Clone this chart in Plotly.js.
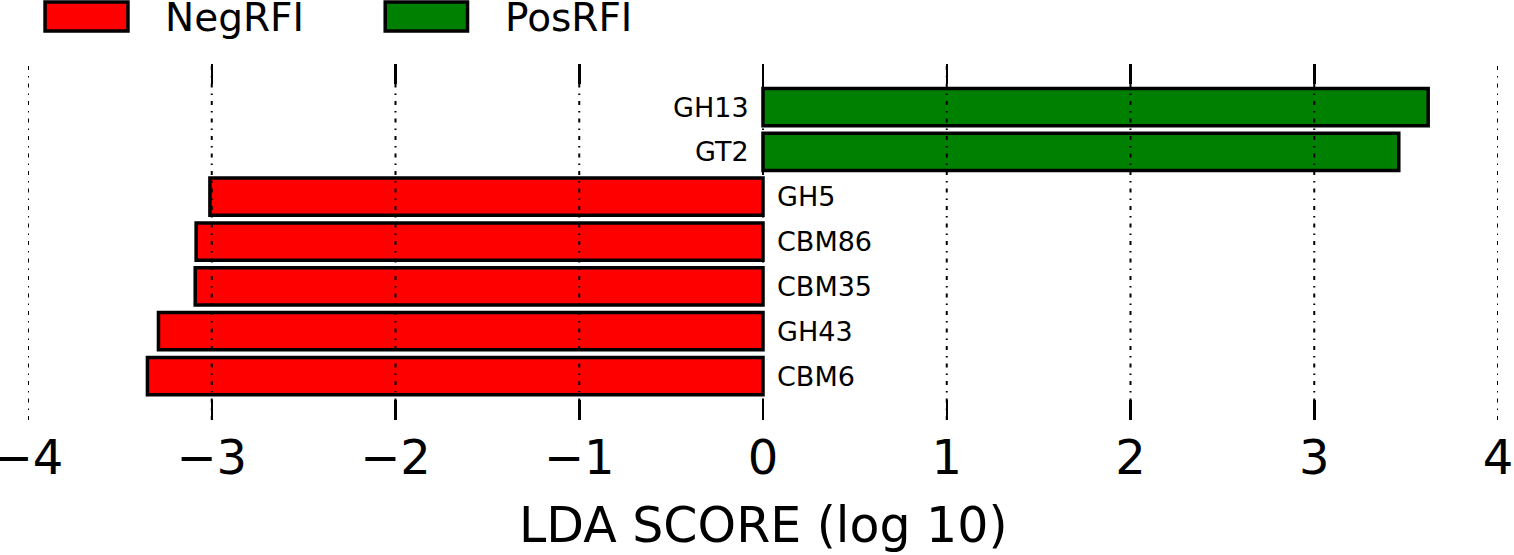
<!DOCTYPE html>
<html>
<head>
<meta charset="utf-8">
<script src="https://cdn.plot.ly/plotly-3.0.1.min.js"></script>
<style>
  html, body { margin: 0; padding: 0; background: #fff; }
  #chart { width: 1514px; height: 555px; }
</style>
</head>
<body>
<div id="chart"></div>
<script>
// features, bottom to top
const features = ['CBM6', 'GH43', 'CBM35', 'CBM86', 'GH5', 'GT2', 'GH13'];
const groups   = ['NegRFI', 'NegRFI', 'NegRFI', 'NegRFI', 'NegRFI', 'PosRFI', 'PosRFI'];
const ldaScore = [-3.35, -3.29, -3.09, -3.085, -3.01, 3.46, 3.62];

const groupNames  = ['NegRFI', 'PosRFI'];
const groupColors = ['#ff0000', '#008000'];
const xTicks = [-4, -3, -2, -1, 0, 1, 2, 3, 4];

const FONT = 'DejaVu Sans, sans-serif';
const pos = features.map((f, i) => i);

// one bar trace per class
const traces = groupNames.map((g, gi) => {
    const idx = pos.filter(i => groups[i] === g);
    return {
        type: 'bar',
        orientation: 'h',
        name: g,
        x: idx.map(i => ldaScore[i]),
        y: idx,
        width: 0.83,
        marker: { color: groupColors[gi], line: { color: '#000', width: 3.5 } },
        hoverinfo: 'x+text',
        text: idx.map(i => features[i]),
        textposition: 'none'
    };
});

// feature names sit on the opposite side of the zero line
const labels = pos.map(i => ({
    x: 0, y: i, xref: 'x', yref: 'y',
    text: features[i],
    showarrow: false,
    xanchor: ldaScore[i] > 0 ? 'right' : 'left',
    xshift: ldaScore[i] > 0 ? -12 : 12,
    font: { family: FONT, size: 27, color: '#000' }
}));

// dash-dot grid drawn over the bars
const grid = xTicks.map(v => ({
    type: 'line', layer: 'above',
    xref: 'x', yref: 'paper',
    x0: v, x1: v, y0: 0, y1: 1,
    line: { color: '#000', width: 2, dash: '4px,6px,1.5px,6px' }
}));

// hand-made legend with wide patches
const legendShapes = [
    { x0: 0.0116, x1: 0.068 },
    { x0: 0.243, x1: 0.299 }
].map((p, gi) => ({
    type: 'rect', layer: 'above', xref: 'paper', yref: 'paper',
    x0: p.x0, x1: p.x1, y0: 1.093, y1: 1.174,
    fillcolor: groupColors[gi],
    line: { color: '#000', width: 3.5 }
}));
const legendText = [0.0918, 0.323].map((x, gi) => ({
    xref: 'paper', yref: 'paper', x: x, y: 1.131,
    xanchor: 'left', yanchor: 'middle',
    text: groupNames[gi], showarrow: false,
    font: { family: FONT, size: 39, color: '#000' }
}));

// x axis title, placed by hand so it sits lower than plotly's default
const xTitle = {
    xref: 'paper', yref: 'paper', x: 0.5, y: -0.295,
    xanchor: 'center', yanchor: 'middle',
    text: 'LDA SCORE (log 10)', showarrow: false,
    font: { family: FONT, size: 49, color: '#000' }
};

const layout = {
    width: 1514, height: 555,
    margin: { l: 28, r: 16, t: 64, b: 135 },
    paper_bgcolor: '#fff',
    plot_bgcolor: '#fff',
    showlegend: false,
    barmode: 'overlay',
    font: { family: FONT, color: '#000' },
    xaxis: {
        range: [-4, 4],
        tickvals: xTicks,
        ticks: 'inside',
        ticklen: 20,
        tickwidth: 2.5,
        tickcolor: '#000',
        mirror: 'ticks',
        showline: false,
        showgrid: false,
        zeroline: false,
        tickfont: { family: FONT, size: 48, color: '#000' },
        ticklabelstandoff: 5,
        ticklabeloverflow: 'allow'
    },
    yaxis: {
        range: [-0.98, 6.96],
        showticklabels: false,
        showgrid: false,
        zeroline: false,
        showline: false,
        ticks: ''
    },
    shapes: grid.concat(legendShapes),
    annotations: labels.concat(legendText, [xTitle])
};

Plotly.newPlot('chart', traces, layout, { displayModeBar: false, staticPlot: true });
</script>
</body>
</html>
